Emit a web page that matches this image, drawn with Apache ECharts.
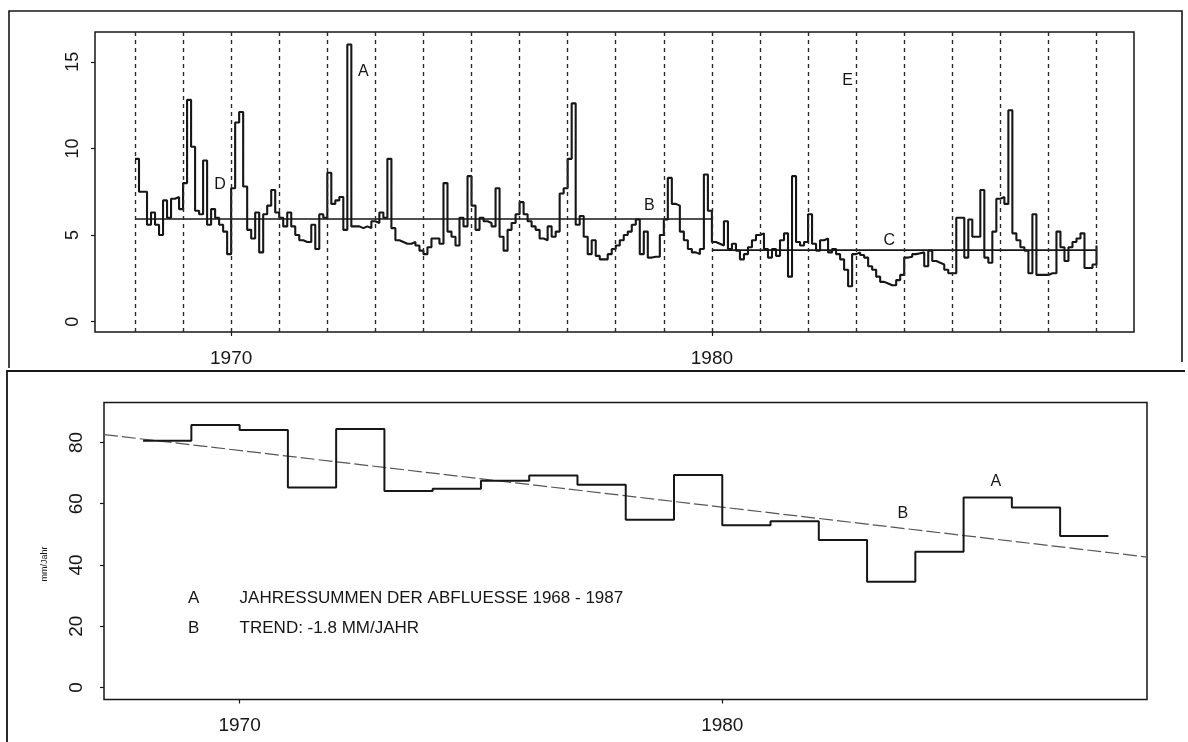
<!DOCTYPE html>
<html><head><meta charset="utf-8">
<script src="https://cdn.jsdelivr.net/npm/echarts@6/dist/echarts.min.js"></script>
<style>html,body{margin:0;padding:0;background:#fff}#c{width:1188px;height:742px}</style>
</head><body><div id="c"></div>
<script>
// ---------- data ----------
const yearLines = [1968,1969,1970,1971,1972,1973,1974,1975,1976,1977,1978,1979,1980,1981,1982,1983,1984,1985,1986,1987,1988];
const monthlyStartYear = 1968;
const monthlyRunoff = [
  9.4, 7.5, 7.5, 5.6, 6.3, 5.6, 5.0, 7.0, 6.0, 7.1, 7.2, 6.5,   // 1968
  8.0,12.8,10.1, 6.4, 6.2, 9.3, 5.6, 6.5, 6.0, 5.6, 5.2, 3.9,   // 1969
  7.7,11.5,12.1, 7.8, 5.3, 4.8, 6.3, 4.0, 6.2, 6.7, 7.6, 6.3,   // 1970
  6.0, 5.5, 6.3, 5.5, 5.0, 4.7, 4.6, 4.6, 5.6, 4.2, 6.2, 6.0,   // 1971
  8.6, 6.8, 7.0, 7.2, 5.3,16.0, 5.5, 5.5, 5.4, 5.5, 5.4, 5.8,   // 1972
  5.7, 6.3, 6.0, 9.4, 5.4, 4.7, 4.6, 4.5, 4.5, 4.6, 4.4, 4.1,   // 1973
  3.9, 4.3, 4.8, 4.8, 4.5, 8.0, 5.2, 4.9, 4.4, 6.0, 5.5, 8.4,   // 1974
  6.7, 5.3, 6.0, 5.8, 5.7, 5.5, 7.7, 4.9, 4.1, 5.3, 5.7, 6.2,   // 1975
  6.9, 6.2, 5.8, 5.5, 5.3, 4.8, 4.7, 5.5, 4.9, 5.2, 7.4, 7.7,   // 1976
  9.4,12.6, 5.6, 6.1, 4.9, 3.9, 4.7, 3.8, 3.6, 3.6, 3.9, 4.2,   // 1977
  4.4, 4.7, 5.0, 5.2, 5.6, 5.9, 3.9, 5.2, 3.7, 3.75,3.75,5.0,   // 1978
  5.9, 8.3, 6.8, 6.7, 5.2, 4.7, 4.2, 4.0, 3.9, 4.2, 8.5, 6.4,   // 1979
  4.6, 4.5, 4.4, 5.8, 4.2, 4.5, 4.1, 3.6, 3.9, 4.3, 4.7, 5.0,   // 1980
  5.1, 4.2, 3.7, 4.2, 3.8, 4.7, 5.1, 2.6, 8.4, 4.6, 4.4, 4.6,   // 1981
  6.2, 4.5, 4.1, 4.7, 4.8, 4.0, 4.2, 3.9, 3.6, 3.0, 2.05,3.9,   // 1982
  4.0, 3.85,3.7, 3.2, 3.0, 2.6, 2.3, 2.2, 2.1, 2.1, 2.4, 2.7,   // 1983
  3.7, 3.75,3.9, 3.95,4.0, 3.2, 4.1, 3.5, 3.4, 3.3, 3.0, 2.8,   // 1984
  2.8, 6.0, 6.0, 3.7, 5.9, 4.9, 4.9, 7.6, 3.7, 3.4, 5.2, 7.1,   // 1985
  7.2, 6.8,12.2, 5.1, 4.7, 4.3, 4.1, 2.8, 6.2, 2.7, 2.7, 2.7,   // 1986
  2.8, 2.8, 5.2, 4.3, 3.5, 4.3, 4.6, 4.8, 5.1, 3.1, 3.1, 3.3    // 1987
];
const monthlyEndValue = 4.4;
const meanPeriods = [[1968, 1980], [1980, 1988]];
const meanValues = [5.93, 4.13];

const annualYears = [1968,1969,1970,1971,1972,1973,1974,1975,1976,1977,1978,1979,1980,1981,1982,1983,1984,1985,1986,1987];
const annualSums  = [80.6,85.7,84.1,65.3,84.4,64.2,64.9,67.5,69.2,66.2,54.8,69.4,53.0,54.3,48.2,34.5,44.3,62.0,58.8,49.5];
const trendYears  = [1967.19, 1988.8];
const trendValues = [82.6, 42.6];

const topYTicks = [0, 5, 10, 15];
const bottomYTicks = [0, 20, 40, 60, 80];
const xTickYears = [1970, 1980];

const topNotes = [['A',1972.75,14.43],['D',1969.77,7.89],['B',1978.70,6.69],['E',1982.82,13.91],['C',1983.69,4.71]];
const bottomNotes = [['A',1985.67,67.2],['B',1983.74,56.65]];
const legendKeys = ['A','B'];
const legendTexts = ['JAHRESSUMMEN DER ABFLUESSE 1968 - 1987','TREND: -1.8 MM/JAHR'];
const legendRows = [29.0, 19.3];
const legendKeyX = 1969.05, legendTextX = 1970.0;

// ---------- chart ----------
const FONT = '"Liberation Sans", Arial, Helvetica, sans-serif';
const INK = '#161616';

const monthlyData = monthlyRunoff.map((v, i) => [monthlyStartYear + i / 12, v]);
monthlyData.push([monthlyStartYear + monthlyRunoff.length / 12, monthlyEndValue]);
const annualData = annualYears.map((y, i) => [y, annualSums[i]]);
annualData.push([annualYears[annualYears.length - 1] + 1, annualSums[annualSums.length - 1]]);

function noteItems(list, size) {
  return list.map(n => ({coord: [n[1], n[2]], label: {formatter: n[0], fontSize: size}}));
}
const legendItems = [];
legendKeys.forEach((k, i) => {
  legendItems.push({coord: [legendKeyX, legendRows[i]], label: {formatter: k, fontSize: 17}});
  legendItems.push({coord: [legendTextX, legendRows[i]], label: {formatter: legendTexts[i], fontSize: 17, align: 'left'}});
});
const mpBase = {symbol: 'circle', symbolSize: 1, itemStyle: {color: 'rgba(0,0,0,0)'}, silent: true,
  label: {show: true, position: 'inside', color: INK, fontFamily: FONT, fontSize: 16}};

const numFmt = v => String(Math.round(v));
function xAx(grid, min, max, margin) {
  return {gridIndex: grid, type: 'value', min: min, max: max,
    axisLine: {show: false, onZero: false}, splitLine: {show: false},
    axisTick: {show: true, customValues: xTickYears, length: 4, lineStyle: {color: INK, width: 1.2}},
    axisLabel: {customValues: xTickYears, formatter: numFmt, margin: margin, fontSize: 19, color: INK, fontFamily: FONT}};
}
function yAx(grid, min, max, ticks, margin, size) {
  return {gridIndex: grid, type: 'value', min: min, max: max,
    axisLine: {show: false, onZero: false}, splitLine: {show: false},
    axisTick: {show: true, customValues: ticks, length: 4, lineStyle: {color: INK, width: 1.2}},
    axisLabel: {customValues: ticks, formatter: numFmt, rotate: 90, margin: margin, fontSize: size, color: INK, fontFamily: FONT}};
}

const yBottom = yAx(1, -3.92, 93.06, bottomYTicks, 18, 19);
yBottom.name = 'mm/Jahr';
yBottom.nameLocation = 'middle';
yBottom.nameRotate = 90;
yBottom.nameGap = 55;
yBottom.nameTextStyle = {fontSize: 9, color: INK, fontFamily: FONT, padding: [0, 26, 0, 0]};

const option = {
  animation: false,
  backgroundColor: '#ffffff',
  grid: [
    {left: 95, top: 32, width: 1039, height: 300, show: true, borderColor: INK, borderWidth: 1.5, backgroundColor: 'transparent'},
    {left: 104, top: 402.5, width: 1043, height: 297, show: true, borderColor: INK, borderWidth: 1.5, backgroundColor: 'transparent'}
  ],
  xAxis: [xAx(0, 1967.168, 1988.78, 17), xAx(1, 1967.19, 1988.8, 17)],
  yAxis: [yAx(0, -0.594, 16.72, topYTicks, 13, 18), yBottom],
  series: [
    {type: 'line', xAxisIndex: 0, yAxisIndex: 0, step: 'end', showSymbol: false, data: monthlyData,
     lineStyle: {color: INK, width: 2.1}, z: 3,
     markLine: {silent: true, symbol: ['none', 'none'], label: {show: false},
       lineStyle: {type: [4, 4], color: '#2a2a2a', width: 1.4},
       data: yearLines.map(y => ({xAxis: y}))},
     markPoint: Object.assign({}, mpBase, {data: noteItems(topNotes, 16)})},
    ...meanPeriods.map((p, i) => ({type: 'line', xAxisIndex: 0, yAxisIndex: 0, showSymbol: false, z: 4,
      data: [[p[0], meanValues[i]], [p[1], meanValues[i]]], lineStyle: {color: INK, width: 1.6}})),
    {type: 'line', xAxisIndex: 1, yAxisIndex: 1, step: 'end', showSymbol: false, data: annualData,
     lineStyle: {color: INK, width: 2}, z: 3,
     markPoint: Object.assign({}, mpBase, {data: noteItems(bottomNotes, 16).concat(legendItems)})},
    {type: 'line', xAxisIndex: 1, yAxisIndex: 1, showSymbol: false, z: 2,
     data: trendYears.map((y, i) => [y, trendValues[i]]),
     lineStyle: {color: '#555', width: 1.2, type: [14, 4]}}
  ],
  graphic: [
    {type: 'polyline', silent: true, shape: {points: [[9, 368], [9, 11], [1182, 11], [1182, 362]]}, style: {stroke: INK, lineWidth: 1.6, fill: null}},
    {type: 'polyline', silent: true, shape: {points: [[1185, 371], [7, 371], [7, 742]]}, style: {stroke: INK, lineWidth: 1.8, fill: null}}
  ]
};
const chart = echarts.init(document.getElementById('c'));
chart.setOption(option);
</script></body></html>
